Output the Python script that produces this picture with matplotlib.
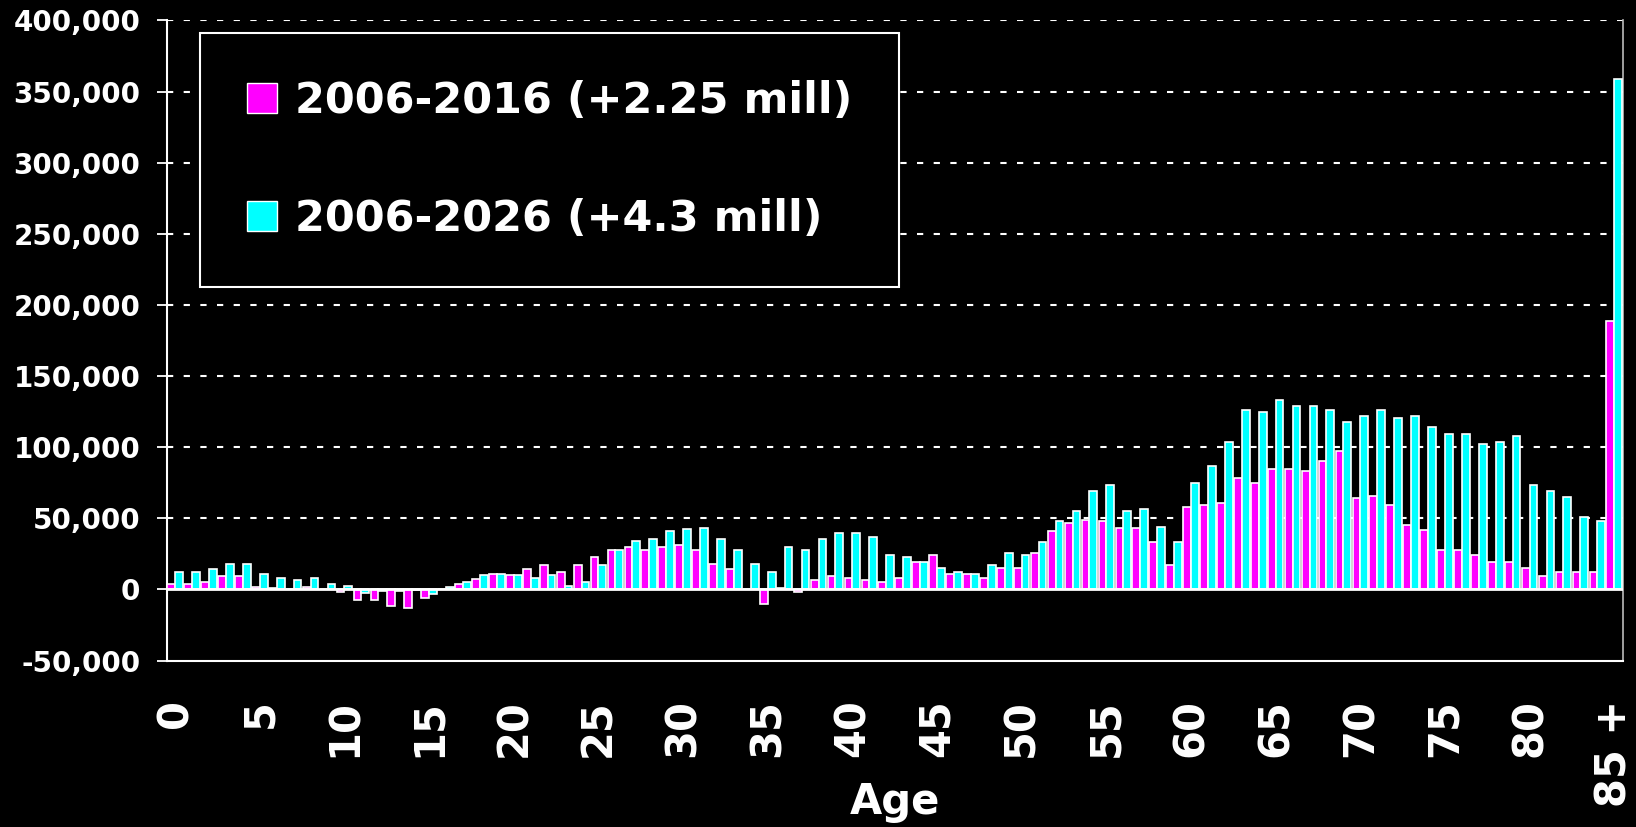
import numpy as np
import matplotlib
matplotlib.use("Agg")
import matplotlib.pyplot as plt
from matplotlib.patches import Patch
from matplotlib.ticker import FuncFormatter

# ---- data (values in persons) ----
ages = [str(a) for a in range(85)] + ["85 +"]
change_2016 = [3.5, 3.5, 5, 9.5, 9.5, 2, 1, 0.5, 2, 0.3,
               -2, -7.5, -7.5, -11.5, -13, -6, 0.3, 4, 7, 11,
               10, 14, 17, 12.5, 17, 22.5, 28, 29.5, 28, 29.5,
               31, 28, 18, 14, 0.3, -10, 1, -2, 6.5, 9.5,
               8, 6.5, 5, 8, 19.5, 24, 11, 11, 8, 15,
               15, 25.5, 41, 46.5, 49, 48, 43.5, 43.5, 33.5, 17,
               58, 59.5, 60.5, 78, 75, 84.5, 84.5, 83.5, 90.5, 97.5,
               64, 66, 59.5, 45, 42, 28, 28, 24, 19.5, 19.5,
               15, 9.5, 12.5, 12.5, 12.5, 188.5]
change_2026 = [12.5, 12.5, 14, 18, 18, 11, 8, 6.5, 8, 3.8,
               2.5, -2.5, -0.8, -1, -0.5, -3, 1.5, 5.5, 10, 11,
               10, 8, 10, 2.5, 5, 17, 28, 34, 35.5, 41,
               42.5, 43.5, 35.5, 28, 18, 12.5, 29.5, 28, 35.5, 39.5,
               39.5, 36.5, 24, 22.5, 19.5, 15, 12, 11, 17, 25.5,
               24, 33.5, 48, 55, 69, 73.5, 55, 56.5, 44, 33.5,
               75, 86.5, 103.5, 126, 124.5, 133, 129, 129, 126, 117.5,
               122, 126, 120.5, 122, 114.5, 109, 109, 102, 103.5, 107.5,
               73.5, 69.5, 65, 51, 48, 359]
change_2016 = np.array(change_2016) * 1000
change_2026 = np.array(change_2026) * 1000
series_labels = ["2006-2016 (+2.25 mill)", "2006-2026 (+4.3 mill)"]
tick_ages = [0, 5, 10, 15, 20, 25, 30, 35, 40, 45, 50, 55, 60, 65, 70, 75, 80, 85]
y_ticks = list(range(-50000, 400001, 50000))

MAG = "#FF00FF"
CYN = "#00FFFF"

fig = plt.figure(figsize=(16.36, 8.27), dpi=100, facecolor="black")
ax = fig.add_axes([0.1019, 0.2013, 0.8900, 0.7740])
ax.set_facecolor("black")

x = np.arange(len(ages))
w = 0.46
ax.bar(x - w / 2, change_2016, width=w, color=MAG, edgecolor="white", linewidth=1.2, zorder=3)
ax.bar(x + w / 2, change_2026, width=w, color=CYN, edgecolor="white", linewidth=1.2, zorder=3)

ax.set_xlim(-0.5, len(ages) - 0.5)
ax.set_ylim(-50000, 400000)

# gridlines (dashed, positive values) and zero line
for yv in y_ticks:
    if yv > 0:
        ax.axhline(yv, color="white", linestyle=(0, (3, 5)), linewidth=1.5, zorder=1)
ax.axhline(0, color="white", linewidth=2, zorder=4)

ax.set_yticks(y_ticks)
ax.yaxis.set_major_formatter(FuncFormatter(lambda v, p: f"{int(v):,}"))
ax.tick_params(axis="y", colors="white", labelsize=20, direction="out", length=7, width=1.3, pad=12)
for lab in ax.get_yticklabels():
    lab.set_fontweight("bold")

ax.set_xticks(tick_ages)
ax.set_xticklabels([ages[i] for i in tick_ages], rotation=90, fontsize=30, fontweight="bold",
                   color="white", va="top", ha="center")
ax.tick_params(axis="x", length=0, pad=28)

for s in ["left", "bottom"]:
    ax.spines[s].set_color("white")
    ax.spines[s].set_linewidth(1.5)
ax.spines["right"].set_color("#bbbbbb")
ax.spines["right"].set_linewidth(1.2)
ax.spines["top"].set_visible(False)

fig.text(0.547, 1 - 802 / 827, "Age", color="white", fontsize=30, fontweight="bold",
         ha="center", va="center")

handles = [Patch(facecolor=MAG, edgecolor="white", linewidth=1),
           Patch(facecolor=CYN, edgecolor="white", linewidth=1)]
leg = ax.legend(handles, series_labels, loc="upper left", bbox_to_anchor=(0.1222, 0.960),
                bbox_transform=fig.transFigure, frameon=True, fancybox=False,
                edgecolor="white", facecolor="black", framealpha=1,
                prop={"weight": "bold", "size": 31}, labelcolor="white",
                handlelength=0.7, handleheight=0.7, handletextpad=0.4,
                labelspacing=1.75, borderpad=1.1, borderaxespad=0)
leg.get_frame().set_linewidth(1.5)
leg.set_zorder(10)

fig.savefig("out.png", dpi=100, facecolor="black")
